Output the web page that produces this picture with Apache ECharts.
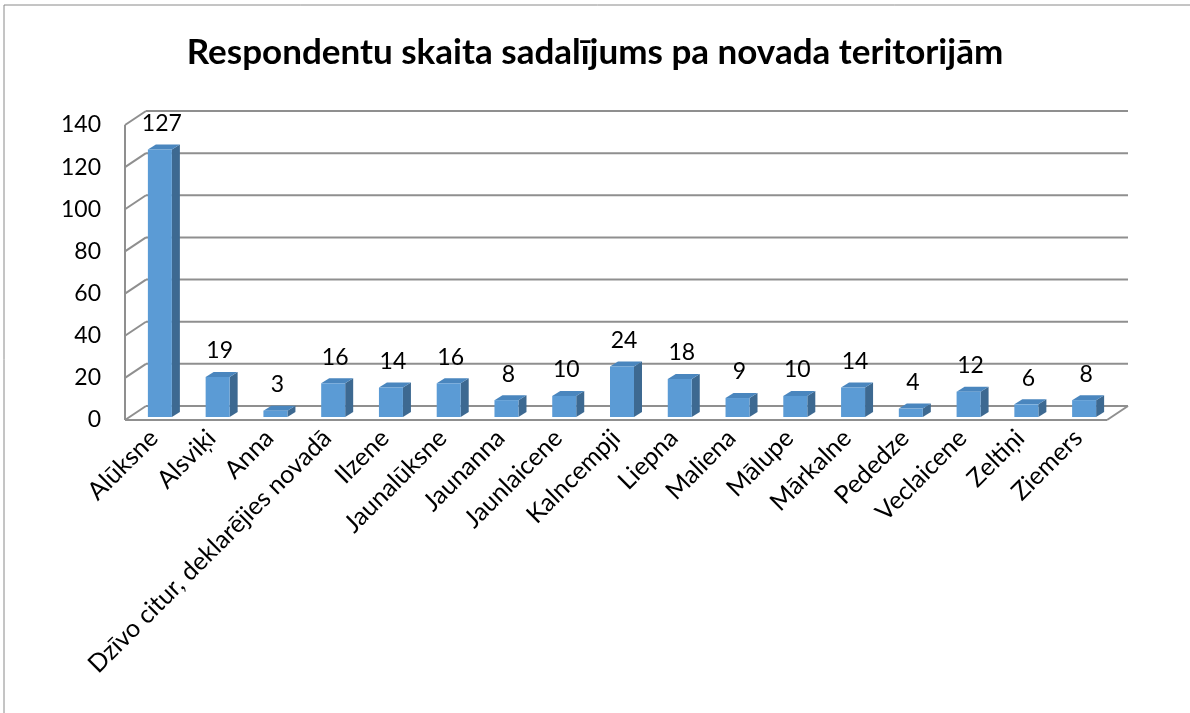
<!DOCTYPE html>
<html>
<head>
<meta charset="utf-8">
<script src="https://cdn.jsdelivr.net/npm/echarts@6/dist/echarts.min.js"></script>
<style>
  html, body { margin: 0; padding: 0; background: #fff; }
  #chart { width: 1190px; height: 713px; }
</style>
</head>
<body>
<div id="chart"></div>
<script>
var categories = ["Alūksne", "Alsviķi", "Anna", "Dzīvo citur, deklarējies novadā", "Ilzene", "Jaunalūksne",
  "Jaunanna", "Jaunlaicene", "Kalncempji", "Liepna", "Maliena", "Mālupe", "Mārkalne", "Pededze",
  "Veclaicene", "Zeltiņi", "Ziemers"];
var values = [127, 19, 3, 16, 14, 16, 8, 10, 24, 18, 9, 10, 14, 4, 12, 6, 8];
var yTicks = [0, 20, 40, 60, 80, 100, 120, 140];

// oblique depth of the box (back wall is shifted this much)
var DX = 21, DY = -14;
var lineColor = "#8f8f8f";

var myChart = echarts.init(document.getElementById("chart"));

function wallItem(params, api) {
  var cs = params.coordSys;
  var y = api.coord([0, api.value(1)])[1];
  var left = cs.x, right = cs.x + cs.width;
  var st = { stroke: lineColor, lineWidth: 2 };
  var kids = [
    { type: "line", shape: { x1: left, y1: y, x2: left + DX, y2: y + DY }, style: st },
    { type: "line", shape: { x1: left + DX, y1: y + DY, x2: right + DX, y2: y + DY }, style: st }
  ];
  if (api.value(1) === 0) {
    kids.push({ type: "line", shape: { x1: left, y1: y, x2: right, y2: y }, style: st });
    kids.push({ type: "line", shape: { x1: right, y1: y, x2: right + DX, y2: y + DY }, style: st });
    kids.push({ type: "line", shape: { x1: left, y1: y, x2: left, y2: cs.y }, style: st });
  }
  return { type: "group", children: kids };
}

function barItem(params, api) {
  var i = api.value(0), v = api.value(1);
  var p0 = api.coord([i, 0]);
  var p1 = api.coord([i, v]);
  var w = 24, bx = 8, by = -5;
  var cx = p0[0] + 6;
  var xl = cx - w / 2, xr = cx + w / 2;
  var fb = p0[1] - 3, ft = p1[1] - 3;
  return {
    type: "group",
    children: [
      { type: "polygon", shape: { points: [[xr, ft], [xr + bx, ft + by], [xr + bx, fb + by], [xr, fb]] },
        style: { fill: "#3d6991" } },
      { type: "polygon", shape: { points: [[xl, ft], [xl + bx, ft + by], [xr + bx, ft + by], [xr, ft]] },
        style: { fill: "#4a86be" } },
      { type: "rect", shape: { x: xl, y: ft, width: w, height: fb - ft },
        style: { fill: "#5b9bd5" } },
      { type: "text", style: { text: String(v), x: cx + 2, y: ft - 26, align: "center", verticalAlign: "middle",
        fontSize: 23, fontFamily: "Lato", fill: "#000" } }
    ]
  };
}

myChart.setOption({
  animation: false,
  title: {
    text: "Respondentu skaita sadalījums pa novada teritorijām",
    left: "center",
    top: 30,
    textStyle: { fontFamily: "Lato", fontWeight: "bold", fontSize: 35, color: "#000" }
  },
  graphic: [
    { type: "rect", shape: { x: 4, y: 5, width: 1200, height: 720 },
      style: { fill: "none", stroke: "#8a8a8a", lineWidth: 1 } }
  ],
  grid: { left: 125, right: 83, top: 125, bottom: 293 },
  xAxis: {
    type: "category",
    data: categories,
    axisLine: { show: false },
    axisTick: { show: false },
    axisLabel: { rotate: 45, interval: 0, margin: 14, fontSize: 25, fontFamily: "Lato", color: "#000" }
  },
  yAxis: {
    type: "value",
    min: 0,
    max: 140,
    interval: 20,
    axisLine: { show: false },
    axisTick: { show: false },
    splitLine: { show: false },
    axisLabel: { margin: 24, fontSize: 23, fontFamily: "Lato", color: "#000" }
  },
  series: [
    {
      type: "custom",
      renderItem: wallItem,
      data: yTicks.map(function (t) { return [0, t]; }),
      silent: true,
      z: 1
    },
    {
      type: "custom",
      renderItem: barItem,
      data: values.map(function (v, i) { return [i, v]; }),
      z: 2
    }
  ]
});
</script>
</body>
</html>
